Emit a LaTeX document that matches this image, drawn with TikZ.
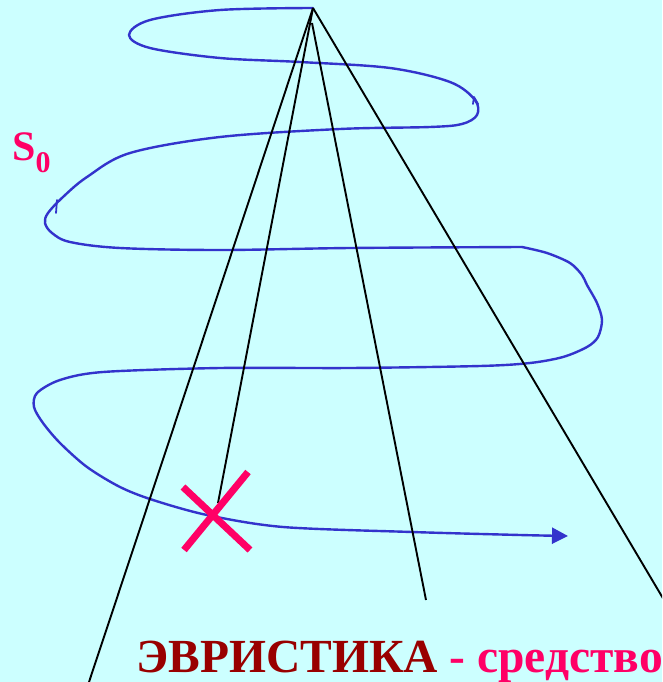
\documentclass[tikz,border=0pt]{standalone}
\usepackage{fontspec}
\setmainfont{Liberation Serif}
\usetikzlibrary{arrows.meta}
\definecolor{bgcyan}{HTML}{CCFFFF}
\definecolor{spiralblue}{HTML}{3333CC}
\definecolor{pinkred}{HTML}{FF0066}
\definecolor{darkred}{HTML}{990000}
\tikzset{
  ray/.style={black, line width=1.9pt},
  spiral/.style={spiralblue, line width=2.4pt, line join=round, line cap=round},
  cross/.style={pinkred, line width=7pt},
}
\begin{document}
\begin{tikzpicture}[x=1pt,y=-1pt]
\fill[bgcyan] (0,0) rectangle (662,682);
\useasboundingbox (0,0) rectangle (662,682);
\clip (0,0) rectangle (662,682);
% coordinates
\coordinate (apex) at (313,8);
\coordinate (apex3) at (312,23);
\coordinate (e1) at (89,682);
\coordinate (e2) at (218,503);
\coordinate (e3) at (426,600);
\coordinate (e4) at (664,600);
% spiral
\draw[spiral] plot[smooth, tension=0.55] coordinates {(313,8) (220,10) (150,20) (129,35) (150,48) (220,58) (300,62) (390,68) (450,82) (475,100) (477,115) (462,124) (430,127) (340,129) (220,137) (130,153) (87,177) (63,197) (48,213) (45,223) (52,233) (70,242) (120,248) (220,250) (350,248) (522,247)};
\draw[spiral, -{Triangle[length=16pt,width=16pt]}] plot[smooth, tension=0.5] coordinates {(522,247) (547,253) (570,263) (582,275) (587,285) (597,303) (602,320) (598,337) (587,347) (563,357) (530,363) (480,366) (350,368) (220,368) (103,372) (60,380) (37,393) (34,407) (43,423) (60,443) (87,467) (120,487) (153,500) (207,515) (283,527) (412,532) (520,535) (568,536)};
\draw[spiral, line width=1.8pt] (473,104) -- (474,97) -- (478,104);
\draw[spiral, line width=1.8pt] (56,213) -- (57,200);
% rays
\draw[ray] (apex) -- (e1);
\draw[ray] (apex) -- (e2);
\draw[ray] (apex3) -- (e3);
\draw[ray] (apex) -- (e4);
% cross
\coordinate (c1) at (183,487);
\coordinate (c2) at (250,550);
\coordinate (c3) at (248,472);
\coordinate (c4) at (184,550);
\draw[cross] (c1) -- (c2);
\draw[cross] (c3) -- (c4);
% labels
\node[anchor=base west, inner sep=0pt, text=pinkred, font=\bfseries] (s0) at (12,160) {\fontsize{42}{42}\selectfont S\raisebox{-13pt}{\fontsize{30}{30}\selectfont 0}};
\node[anchor=base west, inner sep=0pt, font=\bfseries] (title) at (136,672) {\fontsize{47.5}{52}\selectfont\textcolor{darkred}{ЭВРИСТИКА}\ \textcolor{pinkred}{-\ средство}};
\end{tikzpicture}
\end{document}
